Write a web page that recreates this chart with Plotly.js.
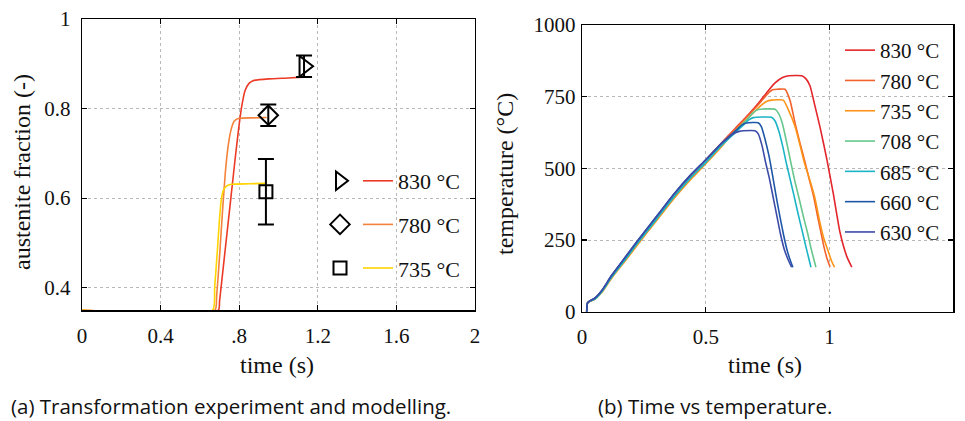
<!DOCTYPE html>
<html><head><meta charset="utf-8">
<script src="https://cdn.plot.ly/plotly-3.0.1.min.js"></script>
<style>html,body{margin:0;padding:0;background:#fff}#c{width:965px;height:421px}</style>
</head><body><div id="c"></div>
<script>
// ---------- (a) austenite fraction vs time ----------
const tA830 = [0, 0.694, 0.70, 0.72, 0.74, 0.76, 0.78, 0.80, 0.815, 0.83, 0.85, 0.87, 0.95, 1.05, 1.125];
const fA830 = [0.35, 0.35, 0.37, 0.45, 0.53, 0.61, 0.69, 0.765, 0.81, 0.84, 0.856, 0.862, 0.866, 0.868, 0.870];
const tA780 = [0, 0.677, 0.685, 0.70, 0.715, 0.73, 0.745, 0.76, 0.775, 0.80, 0.87, 0.94];
const fA780 = [0.35, 0.35, 0.38, 0.47, 0.57, 0.66, 0.72, 0.755, 0.772, 0.778, 0.779, 0.780];
const tA735 = [0, 0.665, 0.675, 0.69, 0.70, 0.71, 0.72, 0.735, 0.76, 0.85, 0.94];
const fA735 = [0.35, 0.35, 0.40, 0.49, 0.555, 0.60, 0.618, 0.627, 0.631, 0.632, 0.633];
const expLabels = ['830 °C', '780 °C', '735 °C'];
const expTime = [1.13, 0.948, 0.936];
const expFrac = [0.894, 0.785, 0.614];
const expErr = [0.024, 0.024, 0.073];
const xTicksA = [0, 0.4, 0.8, 1.2, 1.6, 2];
const xTickTextA = ['0', '0.4', '.8', '1.2', '1.6', '2'];
const yTicksA = [0.4, 0.6, 0.8, 1];
const yTickTextA = ['0.4', '0.6', '0.8', '1'];

// ---------- (b) temperature vs time ----------
const labelsB = ['830 °C', '780 °C', '735 °C', '708 °C', '685 °C', '660 °C', '630 °C'];
const tB830 = [0.019,0.022,0.03,0.05,0.08,0.12,0.18,0.234,0.30,0.37,0.44,0.50,0.56,0.62,0.68,0.72,0.75,0.78,0.81,0.835,0.888,0.905,0.921,0.941,0.962,0.989,1.015,1.042,1.07,1.09];
const TB830 = [0,30,36,44,72,124,193,255,328,406,476,529,585,640,695,735,768,798,817,823,823,812,788,718,642,532,413,278,192,155];
const tB780 = [0.019,0.022,0.03,0.05,0.08,0.12,0.18,0.234,0.30,0.37,0.44,0.50,0.56,0.62,0.68,0.72,0.75,0.77,0.79,0.82,0.84,0.861,0.881,0.90,0.92,0.935,0.95,0.962,0.977,0.99,1.002];
const TB780 = [0,30,36,44,72,124,193,255,328,406,476,529,585,638,692,730,760,774,776,776,738,657,587,525,455,405,340,290,228,185,157];
const tB735 = [0.019,0.022,0.03,0.05,0.08,0.12,0.18,0.234,0.30,0.37,0.44,0.50,0.56,0.62,0.68,0.72,0.745,0.765,0.813,0.834,0.861,0.881,0.90,0.92,0.94,0.962,0.977,0.99,1.009,1.02];
const TB735 = [0,29,35,42,67,117,183,244,316,393,462,516,572,633,683,717,733,738,738,704,645,580,515,460,400,308,255,222,175,155];
const tB708 = [0.019,0.022,0.03,0.05,0.08,0.12,0.18,0.234,0.30,0.37,0.44,0.50,0.56,0.62,0.66,0.69,0.712,0.78,0.795,0.81,0.827,0.845,0.86,0.877,0.895,0.912,0.925,0.935,0.945];
const TB708 = [0,30,36,43,70,121,188,250,322,399,468,521,577,630,665,693,705,706,690,655,590,515,455,395,330,272,222,188,155];
const tB685 = [0.019,0.022,0.03,0.05,0.08,0.12,0.18,0.234,0.30,0.37,0.44,0.50,0.56,0.62,0.65,0.675,0.692,0.766,0.78,0.795,0.81,0.825,0.84,0.855,0.872,0.89,0.905,0.915,0.925];
const TB685 = [0,30,36,43,70,121,188,250,322,399,468,521,577,625,650,670,677,678,665,630,580,520,465,410,345,280,225,190,155];
const tB660 = [0.019,0.022,0.03,0.05,0.08,0.12,0.18,0.234,0.30,0.37,0.44,0.50,0.56,0.60,0.625,0.645,0.665,0.712,0.725,0.74,0.755,0.77,0.785,0.80,0.815,0.83,0.842,0.852];
const TB660 = [0,30,37,46,74,127,196,258,331,409,478,530,584,615,635,651,658,659,645,600,545,475,400,330,265,210,178,155];
const tB630 = [0.019,0.022,0.03,0.05,0.08,0.12,0.18,0.234,0.30,0.37,0.44,0.50,0.56,0.58,0.61,0.635,0.652,0.699,0.712,0.727,0.742,0.757,0.772,0.787,0.802,0.817,0.832,0.847];
const TB630 = [0,30,37,46,74,127,196,258,331,409,478,530,584,600,620,629,631,631,620,580,520,465,400,335,270,218,183,155];
const xTicksB = [0, 0.5, 1, 1.5];
const xTickTextB = ['0', '0.5', '1', '1.5'];
const yTicksB = [0, 250, 500, 750, 1000];

const colA = ['#ec3a26', '#f3823a', '#ffd400'];
const colB = ['#e3262b', '#f2622c', '#fd9419', '#66c68c', '#1bb4c6', '#1f57a8', '#3b4ba8'];
const symA = ['triangle-right-open', 'diamond-open', 'square-open'];
const symSize = [18, 15, 13];

const serif = "'Liberation Serif', 'Times New Roman', serif";
const sans = "'Open Sans', 'Noto Sans', sans-serif";
const traces = [];
const linesA = [[tA830, fA830], [tA780, fA780], [tA735, fA735]];
for (let i = 0; i < 3; i++) {
  traces.push({
    x: linesA[i][0], y: linesA[i][1], xaxis: 'x', yaxis: 'y', type: 'scatter', mode: 'lines',
    line: {color: colA[i], width: 1.6, shape: 'spline', smoothing: 0.5},
    name: expLabels[i], legend: 'legend', legendgroup: 'a' + i
  });
}
for (let i = 0; i < 3; i++) {
  traces.push({
    x: [expTime[i]], y: [expFrac[i]], xaxis: 'x', yaxis: 'y', type: 'scatter', mode: 'markers',
    marker: {symbol: symA[i], size: symSize[i], color: 'black', line: {color: 'black', width: 2}},
    error_y: {type: 'data', array: [expErr[i]], symmetric: true, color: 'black', thickness: 2, width: 8},
    name: '', legend: 'legend2', legendgroup: 'm' + i
  });
}
const linesB = [[tB830, TB830], [tB780, TB780], [tB735, TB735], [tB708, TB708], [tB685, TB685], [tB660, TB660], [tB630, TB630]];
for (let i = 0; i < 7; i++) {
  traces.push({
    x: linesB[i][0], y: linesB[i][1], xaxis: 'x2', yaxis: 'y2', type: 'scatter', mode: 'lines',
    line: {color: colB[i], width: 1.6, shape: 'spline', smoothing: 0.5},
    name: labelsB[i], legend: 'legend3'
  });
}

const axBase = {
  showline: true, mirror: 'ticks', linecolor: 'black', linewidth: 1.3,
  ticks: 'inside', ticklen: 5, tickwidth: 1.2, tickcolor: 'black',
  showgrid: true, gridcolor: '#b8b8b8', griddash: 'dot', gridwidth: 1,
  zeroline: false, tickmode: 'array'
};
const tf = () => ({family: serif, size: 21, color: '#111'});
const W = 965, H = 421;
const px = v => v / W, py = v => 1 - v / H;
const ttl = (text, x, y, angle) => ({text: text, xref: 'paper', yref: 'paper', x: px(x), y: py(y),
  xanchor: 'center', yanchor: 'middle', showarrow: false, textangle: angle || 0,
  font: {family: serif, size: 24, color: '#111'}});

const layout = {
  width: W, height: H, margin: {l: 0, r: 0, t: 0, b: 0},
  font: {family: serif, size: 21, color: '#111'},
  paper_bgcolor: 'white', plot_bgcolor: 'white', showlegend: true,
  xaxis: Object.assign({}, axBase, {domain: [px(82), px(475)], range: [0, 2], tickvals: xTicksA, ticktext: xTickTextA,
    anchor: 'y', tickfont: tf(), ticklabelstandoff: 6}),
  yaxis: Object.assign({}, axBase, {domain: [py(310.2), py(18.8)], range: [0.35, 1], tickvals: yTicksA, ticktext: yTickTextA,
    anchor: 'x', tickfont: tf(), ticklabelstandoff: 6}),
  xaxis2: Object.assign({}, axBase, {domain: [px(582), px(953.3)], range: [0, 1.5], tickvals: xTicksB, ticktext: xTickTextB,
    anchor: 'y2', tickfont: tf(), ticklabelstandoff: 6}),
  yaxis2: Object.assign({}, axBase, {domain: [py(311.7), py(25)], range: [0, 1000], tickvals: yTicksB,
    anchor: 'x2', tickfont: tf(), ticklabelstandoff: 1}),
  legend: {x: px(358), y: py(160), xanchor: 'left', yanchor: 'top', bgcolor: 'rgba(0,0,0,0)', borderwidth: 0,
    font: {family: serif, size: 22, color: '#111'}, tracegroupgap: 12},
  legend2: {x: px(320), y: py(160), xanchor: 'left', yanchor: 'top', bgcolor: 'rgba(0,0,0,0)', borderwidth: 0,
    font: {family: serif, size: 22, color: '#111'}, tracegroupgap: 12},
  legend3: {x: px(840), y: py(30), xanchor: 'left', yanchor: 'top', bgcolor: 'rgba(0,0,0,0)', borderwidth: 0,
    font: {family: serif, size: 21, color: '#111'}},
  annotations: [
    ttl('time (s)', 277, 365),
    ttl('austenite fraction (-)', 22, 172, -90),
    ttl('time (s)', 765, 365),
    ttl('temperature (°C)', 505, 174, -90),
    {text: '(a) Transformation experiment and modelling.', xref: 'paper', yref: 'paper', x: px(453), y: py(406),
      xanchor: 'right', yanchor: 'middle', showarrow: false, font: {family: sans, size: 20.5, color: '#111'}},
    {text: '(b) Time vs temperature.', xref: 'paper', yref: 'paper', x: px(715), y: py(406),
      xanchor: 'center', yanchor: 'middle', showarrow: false, font: {family: sans, size: 20.5, color: '#111'}}
  ]
};
Plotly.newPlot('c', traces, layout, {displayModeBar: false, staticPlot: true});
</script></body></html>
